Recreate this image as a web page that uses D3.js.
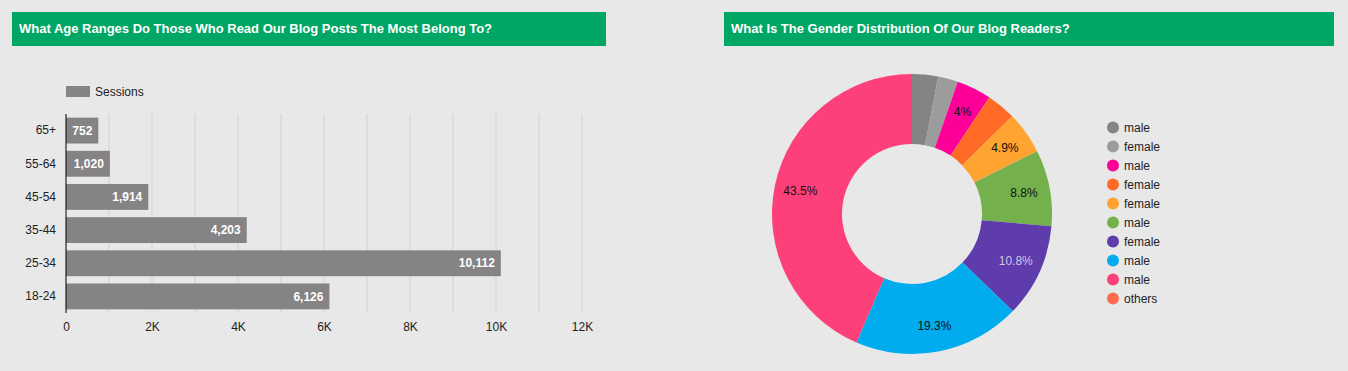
<!DOCTYPE html>
<meta charset="utf-8">
<script src="https://d3js.org/d3.v7.min.js"></script>
<style>
  body { margin: 0; background: #e8e8e8; }
  text { font-family: "Liberation Sans", Arial, sans-serif; }
</style>
<body>
<div id="my_dataviz"></div>
<script>

// age chart data
var ageGroups = ["65+", "55-64", "45-54", "35-44", "25-34", "18-24"];
var sessions = [752, 1020, 1914, 4203, 10112, 6126];
var xTicks = [0, 2000, 4000, 6000, 8000, 10000, 12000];

// gender chart data
var genderLabels = ["male", "female", "male", "female", "female", "male", "female", "male", "male", "others"];
var genderShares = [3.0, 2.3, 4.0, 3.4, 4.9, 8.8, 10.8, 19.3, 43.5, 0];
var genderColors = ["#858383", "#9c9c9c", "#fd0097", "#ff6a26", "#ffa431", "#74b04c", "#5e3cab", "#00acee", "#fd407a", "#ff6b4f"];

var W = 1348, H = 371;

var svg = d3.select("#my_dataviz")
  .append("svg")
    .attr("width", W)
    .attr("height", H);

svg.append("rect").attr("width", W).attr("height", H).attr("fill", "#e8e8e8");

// title bars
var titles = [
  {x: 12, w: 594, t: "What Age Ranges Do Those Who Read Our Blog Posts The Most Belong To?"},
  {x: 724, w: 610, t: "What Is The Gender Distribution Of Our Blog Readers?"}
];
titles.forEach(function(d) {
  svg.append("rect")
    .attr("x", d.x).attr("y", 12)
    .attr("width", d.w).attr("height", 34)
    .attr("fill", "#00a664");
  svg.append("text")
    .attr("x", d.x + 7).attr("y", 33)
    .attr("fill", "white")
    .attr("font-size", "13px")
    .attr("font-weight", "bold")
    .text(d.t);
});

// ---- bar chart ----
var x = d3.scaleLinear().domain([0, 12000]).range([66, 582]);
var y = d3.scaleBand().domain(ageGroups).range([114, 313]).paddingInner(0.22).paddingOuter(0.11);

// grid lines every 1K
var grid = svg.append("g");
grid.selectAll("line")
  .data(d3.range(1000, 12001, 1000))
  .enter().append("line")
    .attr("x1", function(d) { return x(d); })
    .attr("x2", function(d) { return x(d); })
    .attr("y1", 114).attr("y2", 313)
    .attr("stroke", "#d2d2d2");

svg.append("g")
  .selectAll("rect")
  .data(sessions)
  .enter().append("rect")
    .attr("x", x(0))
    .attr("y", function(d, i) { return y(ageGroups[i]); })
    .attr("width", function(d) { return x(d) - x(0); })
    .attr("height", y.bandwidth())
    .attr("fill", "#858383");

svg.append("g")
  .selectAll("text")
  .data(sessions)
  .enter().append("text")
    .attr("x", function(d) { return x(d) - 6; })
    .attr("y", function(d, i) { return y(ageGroups[i]) + y.bandwidth() / 2; })
    .attr("dy", "0.35em")
    .attr("text-anchor", "end")
    .attr("fill", "white")
    .attr("font-size", "12px")
    .attr("font-weight", "bold")
    .text(function(d) { return d3.format(",")(d); });

// y axis
var yAxis = svg.append("g")
  .attr("transform", "translate(66,0)")
  .call(d3.axisLeft(y).tickSize(0).tickPadding(10));
yAxis.select(".domain").attr("stroke", "#000").attr("d", "M0,114V313");
yAxis.selectAll("text").attr("font-size", "12px").attr("fill", "#222").style("font-family", "Liberation Sans, Arial, sans-serif");

// x axis
var xAxis = svg.append("g")
  .attr("transform", "translate(0,313)")
  .call(d3.axisBottom(x).tickValues(xTicks).tickSize(0).tickPadding(9)
    .tickFormat(function(d) { return d === 0 ? "0" : (d / 1000) + "K"; }));
xAxis.select(".domain").remove();
xAxis.selectAll("text").attr("font-size", "12px").attr("fill", "#222").style("font-family", "Liberation Sans, Arial, sans-serif");

// legend
svg.append("rect").attr("x", 66).attr("y", 86).attr("width", 24).attr("height", 11).attr("fill", "#858383");
svg.append("text").attr("x", 95).attr("y", 96).attr("font-size", "12px").attr("fill", "#222").text("Sessions");

// ---- donut ----
var cx = 912, cy = 214;
var pie = d3.pie().sort(null).value(function(d) { return d; });
var arc = d3.arc().innerRadius(70).outerRadius(140);
var labelArc = d3.arc().innerRadius(114).outerRadius(114);
var arcs = pie(genderShares);

var donut = svg.append("g").attr("transform", "translate(" + cx + "," + cy + ")");
donut.selectAll("path")
  .data(arcs)
  .enter().append("path")
    .attr("d", arc)
    .attr("fill", function(d, i) { return genderColors[i]; });

donut.selectAll("text")
  .data(arcs.filter(function(d) { return d.data >= 4; }))
  .enter().append("text")
    .attr("transform", function(d) { return "translate(" + labelArc.centroid(d) + ")"; })
    .attr("text-anchor", "middle")
    .attr("dy", "0.35em")
    .attr("font-size", "12px")
    .attr("fill", function(d) { return d.index === 6 ? "#cfc6e6" : "#111"; })
    .text(function(d) { return d.data + "%"; });

// donut legend
var leg = svg.append("g");
genderLabels.forEach(function(l, i) {
  leg.append("circle")
    .attr("cx", 1113).attr("cy", 127.5 + i * 19)
    .attr("r", 6)
    .attr("fill", genderColors[i]);
  leg.append("text")
    .attr("x", 1124).attr("y", 127.5 + i * 19)
    .attr("dy", "0.35em")
    .attr("font-size", "12px")
    .attr("fill", "#222")
    .text(l);
});

</script>
</body>
